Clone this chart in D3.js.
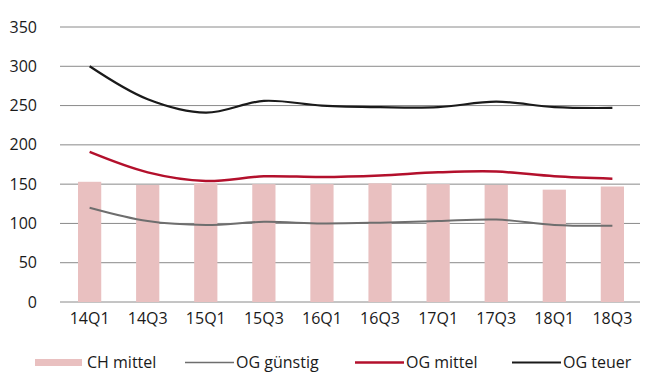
<!DOCTYPE html>
<html><head><meta charset="utf-8">
<script src="https://cdn.jsdelivr.net/npm/d3@7"></script>
<style>body{margin:0;background:#fff}svg{display:block}text{font-family:"Open Sans",sans-serif;fill:#1a1a1a}</style>
</head><body><svg id="c" width="649" height="376"></svg>
<script>
const categories = ["14Q1","14Q3","15Q1","15Q3","16Q1","16Q3","17Q1","17Q3","18Q1","18Q3"];
const chMittel  = [153,149,151,150,150,151,150,149,143,147];
const ogGuenstig= [120,103,98,102,100,101,103,105,98,97];
const ogMittel  = [191,165,154,160,159,161,165,166,160,157];
const ogTeuer   = [300,258,241,256,250,248,248,255,248,247];
const yTicks = [0,50,100,150,200,250,300,350];
const legendLabels = ["CH mittel","OG günstig","OG mittel","OG teuer"];

const svg = d3.select("#c");
const x = d3.scaleBand().domain(categories).range([78,624]).paddingInner(0.6).paddingOuter(0);
const y = d3.scaleLinear().domain([0,350]).range([302,27]);

// gridlines
svg.append("g").selectAll("line").data(yTicks).join("line")
  .attr("x1",60).attr("x2",640).attr("y1",d=>y(d)).attr("y2",d=>y(d))
  .attr("stroke","#8a8a8a").attr("stroke-width",1);

// bars
svg.append("g").selectAll("rect").data(categories).join("rect")
  .attr("x",d=>x(d)).attr("width",x.bandwidth())
  .attr("y",(d,i)=>y(chMittel[i])).attr("height",(d,i)=>y(0)-y(chMittel[i]))
  .attr("fill","#e9c0c0");

// y labels
const yAxis = d3.axisLeft(y).tickValues(yTicks).tickSize(0).tickPadding(0);
const ya = svg.append("g").attr("transform","translate(37,0)").call(yAxis);
ya.select(".domain").remove();
ya.selectAll("text").attr("font-size","16px").attr("font-family","Open Sans, sans-serif").attr("fill","#1a1a1a");

// x labels
const xAxis = d3.axisBottom(x).tickSize(0).tickPadding(0);
const xa = svg.append("g").attr("transform","translate(0,313)").call(xAxis);
xa.select(".domain").remove();
xa.selectAll("text").attr("font-size","16px").attr("font-family","Open Sans, sans-serif").attr("fill","#1a1a1a");

// lines
const cx = (d,i)=>x(categories[i])+x.bandwidth()/2;
const line = d3.line().x(cx).y(d=>y(d)).curve(d3.curveCatmullRom.alpha(0.5));
const series = [[ogGuenstig,"#6e6e6e",2],[ogMittel,"#b3102c",2.5],[ogTeuer,"#1a1a1a",2.2]];
series.forEach(([vals,col,w])=>{
  svg.append("path").datum(vals).attr("d",line).attr("fill","none").attr("stroke",col).attr("stroke-width",w);
});

// legend
const lg = svg.append("g");
lg.append("rect").attr("x",35).attr("y",359).attr("width",47).attr("height",7).attr("fill","#e9c0c0");
lg.append("text").attr("x",87).attr("y",368).attr("font-size","16px").text(legendLabels[0]);
const legItems = [[185,"#6e6e6e",1.5,legendLabels[1]],[355,"#b3102c",2.5,legendLabels[2]],[512,"#1a1a1a",2,legendLabels[3]]];
legItems.forEach(([lx,col,w,t])=>{
  lg.append("line").attr("x1",lx).attr("x2",lx+49).attr("y1",362.5).attr("y2",362.5).attr("stroke",col).attr("stroke-width",w);
  lg.append("text").attr("x",lx+51).attr("y",368).attr("font-size","16px").text(t);
});
</script></body></html>
